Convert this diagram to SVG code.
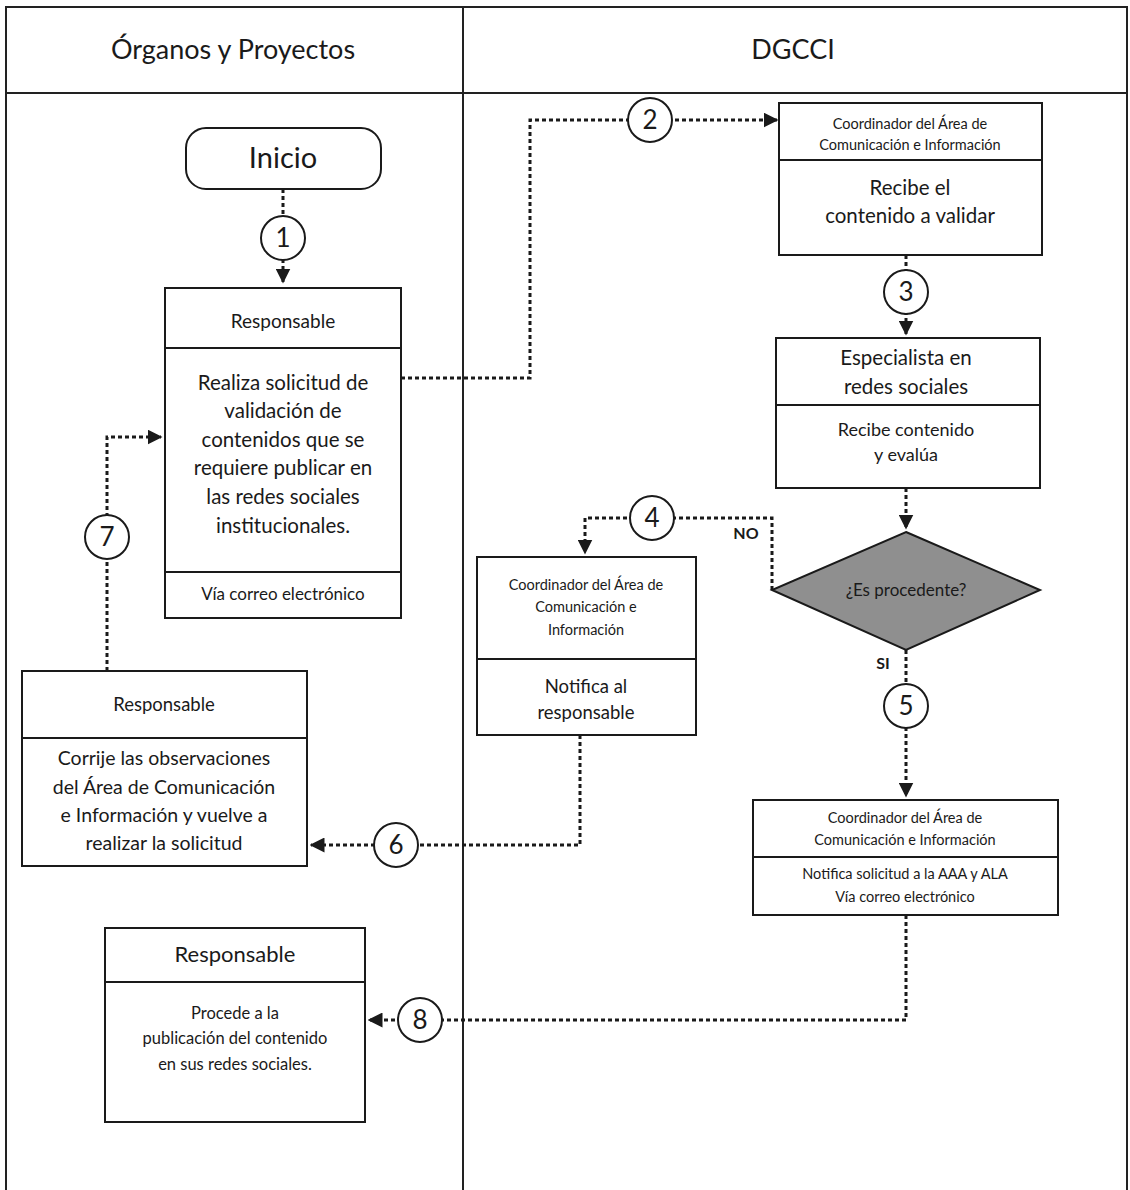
<svg xmlns="http://www.w3.org/2000/svg" width="1130" height="1190" viewBox="0 0 1130 1190">
<style>
text{font-family:Lato,"Liberation Sans",sans-serif;fill:#1a1a1a;text-anchor:middle}
.box{fill:#fff;stroke:#1a1a1a;stroke-width:2}
.ln{stroke:#1a1a1a;stroke-width:2;fill:none}
.c{fill:#fff;stroke:#1a1a1a;stroke-width:2}
.num{font-size:26px}
.dash{fill:none;stroke:#1a1a1a;stroke-width:3;stroke-dasharray:4 3}
.lane{stroke:#222;stroke-width:2;fill:none}
</style>
<defs>
<marker id="ah" viewBox="0 0 10 10" refX="9" refY="5" markerWidth="5" markerHeight="5" orient="auto" markerUnits="strokeWidth">
<path d="M0,0 L10,5 L0,10 Z" fill="#1a1a1a"/>
</marker>
</defs>
<rect width="1130" height="1190" fill="#fff"/>
<g id="lanes">
<path class="lane" d="M6,1190 V7 H1127 V1190 M6,93 H1127 M463,7 V1190"/>
<text x="233" y="59" font-size="27">Órganos y Proyectos</text>
<text x="793" y="59" font-size="27">DGCCI</text>
</g>
<g id="connectors">
<path class="dash" d="M283,189 V282" marker-end="url(#ah)"/>
<path class="dash" d="M401,378 H530 V120 H777" marker-end="url(#ah)"/>
<path class="dash" d="M906,255 V334" marker-end="url(#ah)"/>
<path class="dash" d="M906,488 V528" marker-end="url(#ah)"/>
<path class="dash" d="M772,590 V518 H585 V553" marker-end="url(#ah)"/>
<path class="dash" d="M906,650 V796" marker-end="url(#ah)"/>
<path class="dash" d="M580,735 V845 H311" marker-end="url(#ah)"/>
<path class="dash" d="M107,671 V437 H161" marker-end="url(#ah)"/>
<path class="dash" d="M906,915 V1020 H369" marker-end="url(#ah)"/>
<text x="746" y="539" font-size="16" font-weight="bold">NO</text>
<text x="883" y="669" font-size="16" font-weight="bold">SI</text>
</g>
<g id="c1"><circle class="c" cx="283" cy="238" r="22"/><text class="num" x="283" y="247">1</text></g>
<g id="c2"><circle class="c" cx="650" cy="120" r="22"/><text class="num" x="650" y="129">2</text></g>
<g id="c3"><circle class="c" cx="906" cy="292" r="22"/><text class="num" x="906" y="301">3</text></g>
<g id="c4"><circle class="c" cx="652" cy="518" r="22"/><text class="num" x="652" y="527">4</text></g>
<g id="c5"><circle class="c" cx="906" cy="706" r="22"/><text class="num" x="906" y="715">5</text></g>
<g id="c6"><circle class="c" cx="396" cy="845" r="22"/><text class="num" x="396" y="854">6</text></g>
<g id="c7"><circle class="c" cx="107" cy="537" r="22"/><text class="num" x="107" y="546">7</text></g>
<g id="c8"><circle class="c" cx="420" cy="1020" r="22"/><text class="num" x="420" y="1029">8</text></g>
<g id="inicio">
<rect class="box" x="186" y="128" width="195" height="61" rx="20"/>
<text x="283" y="168" font-size="29">Inicio</text>
</g>
<g id="n1">
<rect class="box" x="165" y="288" width="236" height="330"/>
<path class="ln" d="M165,348 H401 M165,572 H401"/>
<text x="283" y="328" font-size="19">Responsable</text>
<text font-size="20.5"><tspan x="283" y="390">Realiza solicitud de</tspan><tspan x="283" y="418">validación de</tspan><tspan x="283" y="447">contenidos que se</tspan><tspan x="283" y="475">requiere publicar en</tspan><tspan x="283" y="504">las redes sociales</tspan><tspan x="283" y="533">institucionales.</tspan></text>
<text x="283" y="600" font-size="17">Vía correo electrónico</text>
</g>
<g id="n2">
<rect class="box" x="779" y="103" width="263" height="152"/>
<path class="ln" d="M779,160 H1042"/>
<text font-size="14.5"><tspan x="910" y="129">Coordinador del Área de</tspan><tspan x="910" y="150">Comunicación e Información</tspan></text>
<text font-size="20.5"><tspan x="910" y="195">Recibe el</tspan><tspan x="910" y="223">contenido a validar</tspan></text>
</g>
<g id="n3">
<rect class="box" x="776" y="338" width="264" height="150"/>
<path class="ln" d="M776,405 H1040"/>
<text font-size="20.5"><tspan x="906" y="365">Especialista en</tspan><tspan x="906" y="394">redes sociales</tspan></text>
<text font-size="18"><tspan x="906" y="436">Recibe contenido</tspan><tspan x="906" y="461">y evalúa</tspan></text>
</g>
<g id="dec">
<polygon points="906,532 1040,590 906,650 772,590" fill="#8f8f8f" stroke="#1a1a1a" stroke-width="2"/>
<text x="906" y="596" font-size="17">¿Es procedente?</text>
</g>
<g id="n4">
<rect class="box" x="477" y="557" width="219" height="178"/>
<path class="ln" d="M477,659 H696"/>
<text font-size="14.5"><tspan x="586" y="590">Coordinador del Área de</tspan><tspan x="586" y="612">Comunicación e</tspan><tspan x="586" y="635">Información</tspan></text>
<text font-size="18.5"><tspan x="586" y="693">Notifica al</tspan><tspan x="586" y="719">responsable</tspan></text>
</g>
<g id="n5">
<rect class="box" x="753" y="800" width="305" height="115"/>
<path class="ln" d="M753,857 H1058"/>
<text font-size="14.5"><tspan x="905" y="823">Coordinador del Área de</tspan><tspan x="905" y="845">Comunicación e Información</tspan></text>
<text font-size="14.5"><tspan x="905" y="879">Notifica solicitud a la AAA y ALA</tspan><tspan x="905" y="902">Vía correo electrónico</tspan></text>
</g>
<g id="n6">
<rect class="box" x="22" y="671" width="285" height="195"/>
<path class="ln" d="M22,738 H307"/>
<text x="164" y="711" font-size="18.5">Responsable</text>
<text font-size="19.5"><tspan x="164" y="765">Corrije las observaciones</tspan><tspan x="164" y="794">del Área de Comunicación</tspan><tspan x="164" y="822">e Información y vuelve a</tspan><tspan x="164" y="850">realizar la solicitud</tspan></text>
</g>
<g id="n7">
<rect class="box" x="105" y="928" width="260" height="194"/>
<path class="ln" d="M105,982 H365"/>
<text x="235" y="962" font-size="22">Responsable</text>
<text font-size="16.5"><tspan x="235" y="1019">Procede a la</tspan><tspan x="235" y="1044">publicación del contenido</tspan><tspan x="235" y="1070">en sus redes sociales.</tspan></text>
</g>
</svg>
